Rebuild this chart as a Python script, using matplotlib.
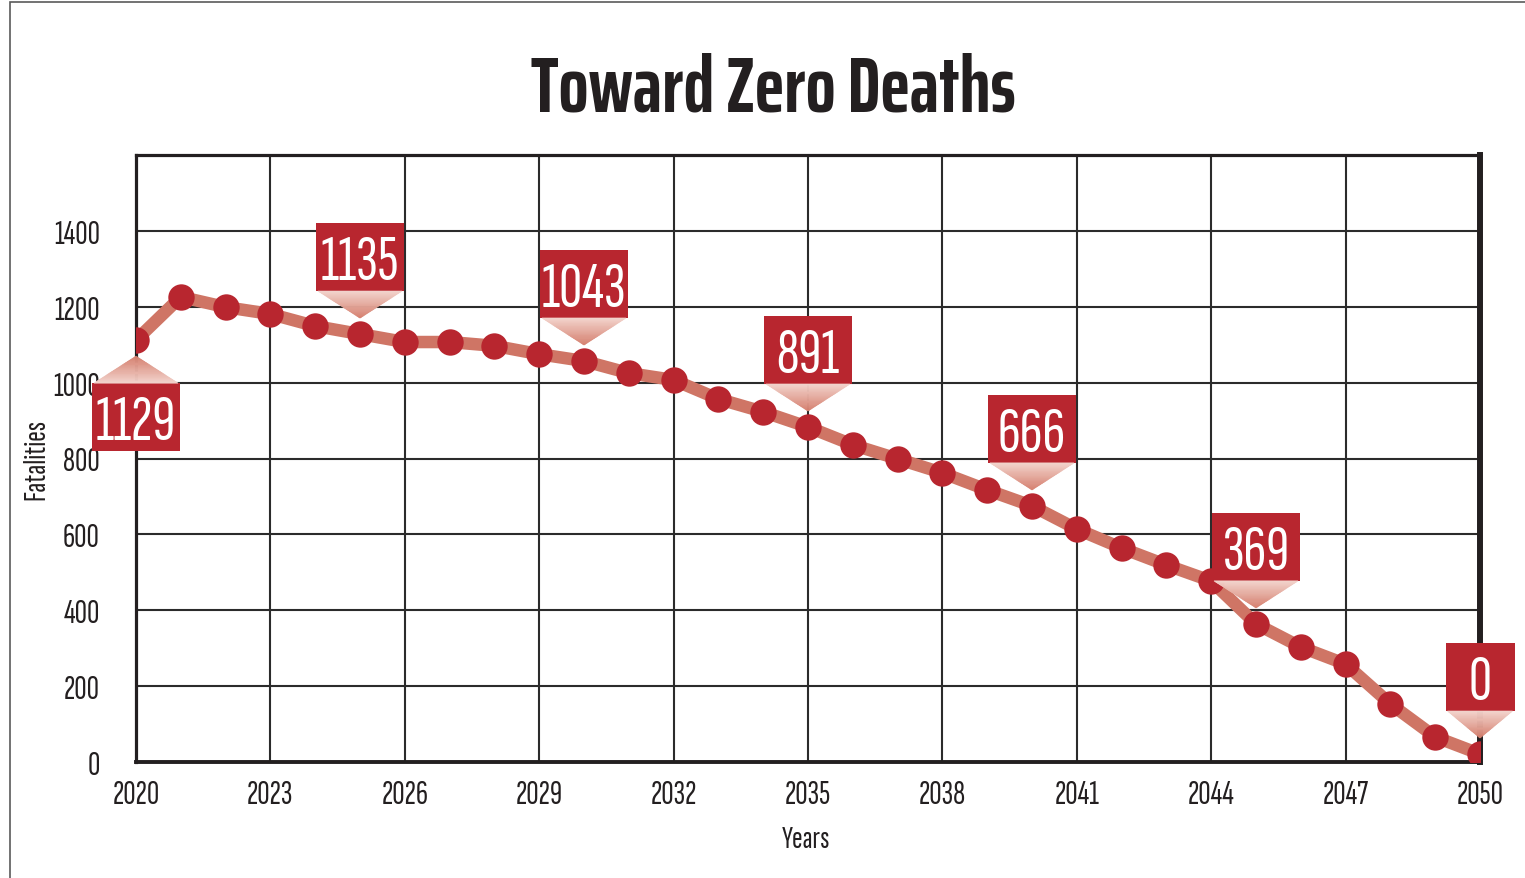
import matplotlib
matplotlib.use('Agg')
import matplotlib.pyplot as plt
import matplotlib.transforms as mtransforms
from matplotlib.patches import Rectangle, Polygon
import numpy as np

body_font = ['Sofia Sans Extra Condensed', 'Saira ExtraCondensed', 'DejaVu Sans']
title_font = ['Saira ExtraCondensed', 'Sofia Sans Extra Condensed', 'DejaVu Sans']
plt.rcParams['font.family'] = body_font

# data
years = list(range(2020, 2051))
fatalities = [1112, 1226, 1199, 1181, 1149, 1128, 1107, 1107, 1097, 1075,
              1057, 1025, 1007, 957, 923, 883, 836, 799, 762, 717,
              675, 614, 564, 519, 477, 364, 303, 258, 153, 66, 21]
callout_years = [2020, 2025, 2030, 2035, 2040, 2045, 2050]
callout_text = ['1129', '1135', '1043', '891', '666', '369', '0']
callout_below = [True, False, False, False, False, False, False]

xticks = list(range(2020, 2051, 3))
yticks = list(range(0, 1401, 200))

red = '#b8262f'
line_col = '#cf7565'
dark = '#231f20'

fig = plt.figure(figsize=(15.25, 8.79), dpi=100)
W, H = 1525., 879.
ax = fig.add_axes([136/W, 1-763/H, (1480-136)/W, (763-156)/H])

# outer frame of the graphic
fig.patches.append(Rectangle((10/W, -0.05), 1.2, 1-3/H+0.05, transform=fig.transFigure,
                             fill=False, ec='#5a5a5a', lw=1.2))

ax.plot(years, fatalities, color=line_col, lw=9, solid_capstyle='round', zorder=3)
ax.plot(years, fatalities, 'o', color=red, ms=19, mew=0, zorder=4)

ax.set_xlim(2020, 2050)
ax.set_ylim(0, 1600)
ax.set_xticks(xticks)
ax.set_yticks(yticks)
ax.grid(True, color='#2b2b2b', lw=1.5)
ax.set_axisbelow(True)
ax.tick_params(length=0, labelsize=24.5, colors=dark)
ax.tick_params(axis='x', pad=12)
ax.tick_params(axis='y', pad=26)
for side, w in [('left', 2.3), ('bottom', 2.8), ('top', 2.3), ('right', 4.3)]:
    ax.spines[side].set_linewidth(w)
    ax.spines[side].set_color(dark)

ax.set_xlabel('Years', fontsize=23, color=dark, va='center')
ax.xaxis.set_label_coords(0.4985, -0.127)
ax.set_ylabel('Fatalities', fontsize=23, color=dark, va='center')
ax.yaxis.set_label_coords(-0.074, 0.5)

fig.text(773/W, 1-112/H, 'Toward Zero Deaths', fontsize=57, fontweight='bold',
         family=title_font, color=dark, ha='center', va='baseline')

# callout boxes with gradient pointer
light = np.array(matplotlib.colors.to_rgb('#f3d5ce'))
deep = np.array(matplotlib.colors.to_rgb('#d67f6e'))
lookup = dict(zip(years, fatalities))
for yr, txt, below in zip(callout_years, callout_text, callout_below):
    val = lookup[yr]
    T = mtransforms.ScaledTranslation(yr, val, ax.transData)
    s = -1 if below else 1
    bw = 88 if len(txt) > 2 else 69
    cy = 77 * s
    ax.add_patch(Rectangle((-bw/2, cy-34), bw, 68, transform=T, fc=red, ec='none',
                           zorder=6, clip_on=False))
    yb = cy - 34*s
    yt = 16*s
    hw = bw/2 - 2
    n = 24
    for i in range(n):
        t0, t1 = i/n, (i+1)/n
        y0 = yb + (yt-yb)*t0
        y1 = yb + (yt-yb)*t1
        c = light + (deep-light)*(t0+t1)/2
        ax.add_patch(Polygon([(-hw*(1-t0), y0), (hw*(1-t0), y0), (hw*(1-t1), y1), (-hw*(1-t1), y1)],
                             closed=True, transform=T, fc=c, ec=c, lw=0.5,
                             zorder=6, clip_on=False))
    ax.annotate(txt, xy=(yr, val), xytext=(0, cy-22), textcoords='offset pixels',
                ha='center', va='baseline', color='white', fontsize=46, zorder=7,
                annotation_clip=False)

fig.savefig('out.png', dpi=100)
